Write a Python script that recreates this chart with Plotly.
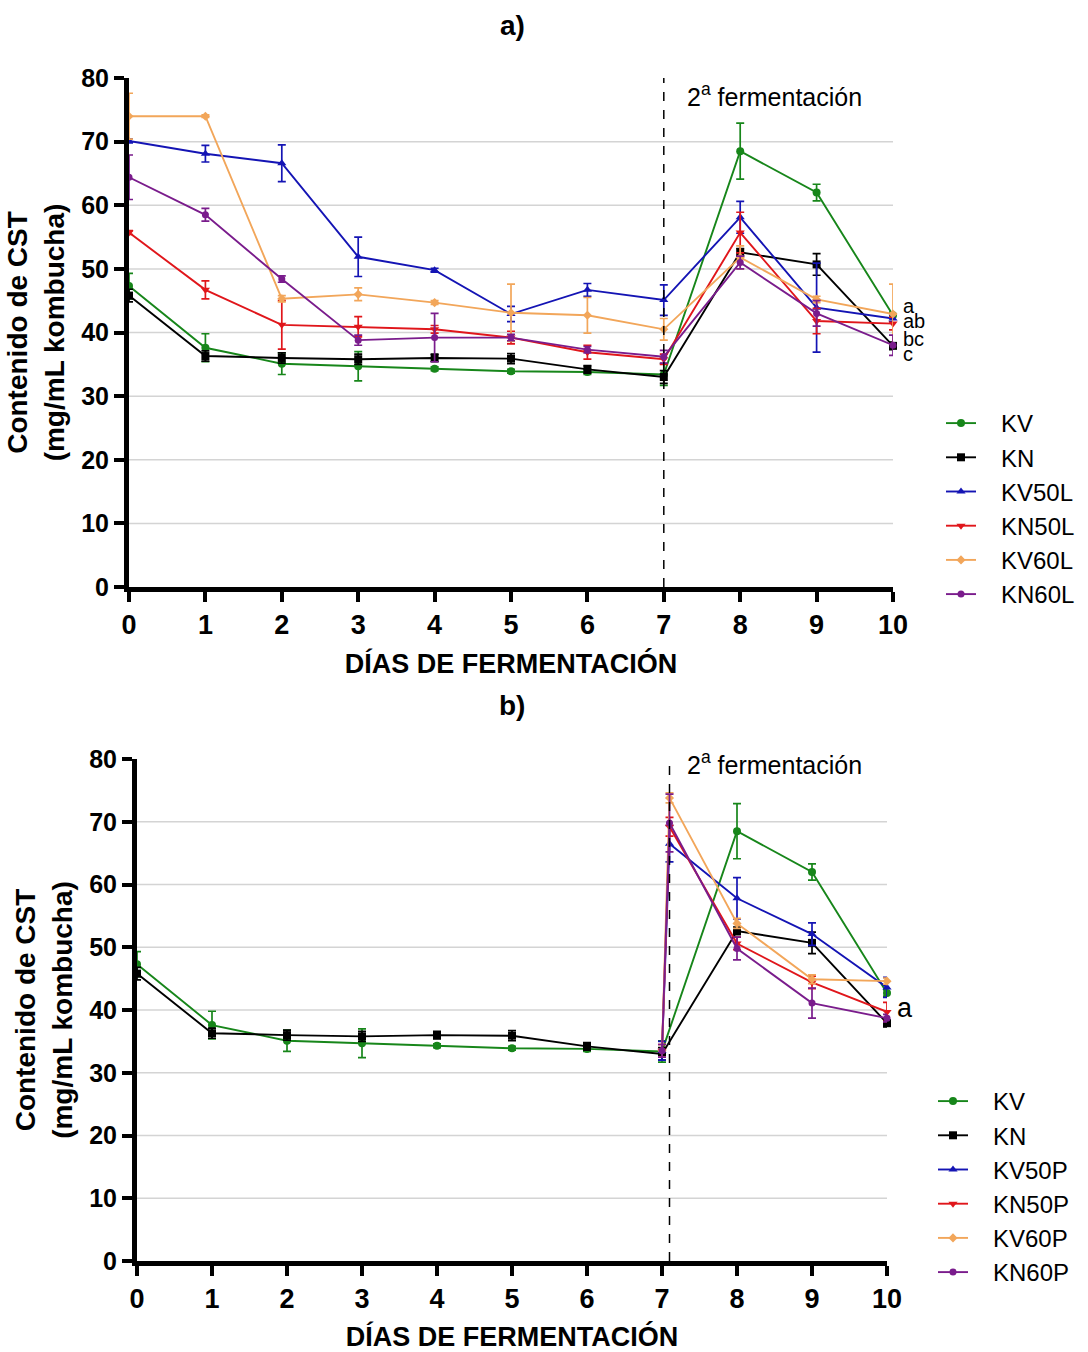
import plotly.graph_objects as go

# ---- data -------------------------------------------------------------
DAYS = [0, 1, 2, 3, 4, 5, 6, 7, 8, 9, 10]
P_DAYS = [7, 7.1, 8, 9, 10]
Y_TICKS = [0, 10, 20, 30, 40, 50, 60, 70, 80]
GRID = [10, 20, 30, 40, 50, 60, 70]

KV = [47.3, 37.6, 35.1, 34.7, 34.3, 33.9, 33.8, 33.4, 68.5, 62.0, 42.7]
KV_ERR = [2.0, 2.2, 1.7, 2.3, 0.3, 0.3, 0.4, 1.7, 4.4, 1.3, 0.5]
KN = [45.8, 36.3, 36.0, 35.8, 36.0, 35.9, 34.2, 33.0, 52.6, 50.7, 37.9]
KN_ERR = [1.0, 0.8, 0.8, 0.8, 0.6, 0.8, 0.6, 1.0, 0.6, 1.7, 0.6]

KV50L = [70.1, 68.1, 66.6, 51.9, 49.8, 42.9, 46.7, 45.1, 58.1, 43.9, 42.2]
KV50L_ERR = [0.3, 1.3, 2.9, 3.1, 0.3, 1.2, 1.0, 2.4, 2.5, 7.0, 0.5]
KN50L = [55.7, 46.7, 41.2, 40.9, 40.5, 39.2, 36.9, 35.8, 55.7, 41.8, 41.4]
KN50L_ERR = [0.3, 1.4, 3.8, 1.6, 0.6, 1.0, 1.1, 0.8, 3.2, 2.0, 1.0]
KV60L = [74.0, 74.0, 45.3, 46.0, 44.7, 43.1, 42.7, 40.5, 51.8, 45.2, 42.9]
KV60L_ERR = [3.6, 0.2, 0.5, 1.0, 0.3, 4.5, 2.8, 1.7, 1.8, 0.5, 4.7]
KN60L = [64.4, 58.5, 48.4, 38.8, 39.2, 39.2, 37.3, 36.2, 51.0, 43.0, 38.0]
KN60L_ERR = [3.5, 1.0, 0.5, 0.8, 3.8, 0.5, 0.5, 1.0, 1.0, 2.0, 1.6]

KV50P = [33.5, 66.5, 57.8, 52.1, 43.6]
KV50P_ERR = [1.5, 2.9, 3.3, 1.8, 1.6]
KN50P = [33.5, 69.2, 50.6, 44.4, 39.7]
KN50P_ERR = [1.0, 1.5, 1.0, 1.0, 1.5]
KV60P = [33.5, 73.8, 53.8, 44.9, 44.6]
KV60P_ERR = [1.0, 0.8, 0.8, 0.7, 0.5]
KN60P = [33.5, 69.8, 49.8, 41.1, 38.7]
KN60P_ERR = [1.0, 4.6, 1.8, 2.4, 0.6]

LETTERS_A = ["a", "ab", "bc", "c"]
LETTERS_A_Y = [44.2, 41.8, 39.0, 36.6]
LETTERS_B = ["a"]
LETTERS_B_Y = [40.3]

# ---- styles -----------------------------------------------------------
GREEN, BLACK, BLUE = "#17861a", "#000000", "#1414b4"
RED, ORANGE, PURPLE = "#e0161b", "#f2a65a", "#7a1c8c"

STYLE = {
    "KV": (GREEN, "circle", 8),
    "KN": (BLACK, "square", 8),
    "50": (BLUE, "triangle-up", 8),
    "N50": (RED, "triangle-down", 8),
    "60": (ORANGE, "diamond", 7),
    "N60": (PURPLE, "circle", 7),
}

SANS = "Liberation Sans, Arial"
AX_FONT = dict(family=SANS, size=25, color="black", weight="bold")
NARROW_BOLD = dict(family="Liberation Sans Narrow, Arial Narrow, Liberation Sans",
                   size=27, color="black", weight="bold")
GAP = "\u00a0\u00a0\u00a0"  # breathing room between legend symbol and label

fig = go.Figure()


def add_series(name, x, y, err, key, xa, ya, legend):
    color, symbol, size = STYLE[key]
    fig.add_trace(go.Scatter(
        x=x, y=y, name=GAP + name, mode="lines+markers",
        xaxis=xa, yaxis=ya, legend=legend, cliponaxis=False,
        line=dict(color=color, width=1.9),
        marker=dict(color=color, symbol=symbol, size=size),
        error_y=dict(type="data", array=err, visible=True, color=color,
                     thickness=1.7, width=4),
    ))


# panel a
add_series("KV", DAYS, KV, KV_ERR, "KV", "x", "y", "legend")
add_series("KN", DAYS, KN, KN_ERR, "KN", "x", "y", "legend")
add_series("KV50L", DAYS, KV50L, KV50L_ERR, "50", "x", "y", "legend")
add_series("KN50L", DAYS, KN50L, KN50L_ERR, "N50", "x", "y", "legend")
add_series("KV60L", DAYS, KV60L, KV60L_ERR, "60", "x", "y", "legend")
add_series("KN60L", DAYS, KN60L, KN60L_ERR, "N60", "x", "y", "legend")

# panel b
add_series("KV", DAYS, KV, KV_ERR, "KV", "x2", "y2", "legend2")
add_series("KN", DAYS, KN, KN_ERR, "KN", "x2", "y2", "legend2")
add_series("KV50P", P_DAYS, KV50P, KV50P_ERR, "50", "x2", "y2", "legend2")
add_series("KN50P", P_DAYS, KN50P, KN50P_ERR, "N50", "x2", "y2", "legend2")
add_series("KV60P", P_DAYS, KV60P, KV60P_ERR, "60", "x2", "y2", "legend2")
add_series("KN60P", P_DAYS, KN60P, KN60P_ERR, "N60", "x2", "y2", "legend2")

W, H = 1088, 1352


def xaxis(x0px, x1px, anchor):
    return dict(domain=[x0px / W, x1px / W], range=[0, 10], anchor=anchor,
                automargin=False,
                tickvals=DAYS, ticks="outside", ticklen=10, tickwidth=4,
                tickcolor="black", showline=True, linewidth=5, linecolor="black",
                showgrid=False, zeroline=False, tickfont=NARROW_BOLD,
                title=dict(text="DÍAS DE FERMENTACIÓN", font=NARROW_BOLD, standoff=16))


def yaxis(y0px, y1px, anchor):
    return dict(domain=[1 - y0px / H, 1 - y1px / H], range=[0, 80], anchor=anchor,
                automargin=False,
                tickvals=Y_TICKS, ticks="outside", ticklen=10, tickwidth=4,
                tickcolor="black", showline=True, linewidth=5, linecolor="black",
                showgrid=False, zeroline=False, tickfont=AX_FONT,
                title=dict(text="Contenido de CST<br>(mg/mL kombucha)",
                           font=dict(family=SANS, size=28, color="black", weight="bold"),
                           standoff=10))


def legend_box(xpx, ypx, size):
    return dict(x=xpx / W, y=1 - ypx / H, xanchor="left", yanchor="top",
                font=dict(family=SANS, size=size, color="black"),
                bgcolor="rgba(0,0,0,0)", tracegroupgap=0, itemwidth=30)


fig.update_layout(
    template="none",
    width=W, height=H, margin=dict(l=0, r=0, t=0, b=0, autoexpand=False),
    paper_bgcolor="white", plot_bgcolor="white",
    xaxis=xaxis(129, 893, "y"), yaxis=yaxis(587, 78, "x"),
    xaxis2=xaxis(137, 887, "y2"), yaxis2=yaxis(1261, 759, "x2"),
    legend=legend_box(941, 401, 24),
    legend2=legend_box(933, 1079, 24),
    showlegend=True,
)

# light horizontal grid
for xr, yr in (("x", "y"), ("x2", "y2")):
    for g in GRID:
        fig.add_shape(type="line", xref=f"{xr} domain", yref=yr, x0=0, x1=1,
                      y0=g, y1=g, line=dict(color="#d4d4d4", width=1.5), layer="below")

# start of the second fermentation
fig.add_shape(type="line", xref="x", yref="y domain", x0=7, x1=7, y0=0, y1=1,
              line=dict(color="black", width=1.5, dash="dash"))
fig.add_shape(type="line", xref="x2", yref="y2 domain", x0=7.1, x1=7.1, y0=0, y1=1,
              line=dict(color="black", width=1.5, dash="dash"))

ANN_FONT = dict(family=SANS, size=25, color="black")
fig.add_annotation(x=7.28, y=77.4, xref="x", yref="y", text="2<sup>a</sup> fermentación",
                   showarrow=False, xanchor="left", yanchor="middle", font=ANN_FONT)
fig.add_annotation(x=7.3, y=79.4, xref="x2", yref="y2", text="2<sup>a</sup> fermentación",
                   showarrow=False, xanchor="left", yanchor="middle", font=ANN_FONT)

# significance letters just right of day 10
LET_FONT = dict(family=SANS, size=20, color="black")
for t, yv in zip(LETTERS_A, LETTERS_A_Y):
    fig.add_annotation(x=1, y=yv, xref="x domain", yref="y", text=t, showarrow=False,
                       xanchor="left", yanchor="middle", xshift=8, font=LET_FONT)
for t, yv in zip(LETTERS_B, LETTERS_B_Y):
    fig.add_annotation(x=1, y=yv, xref="x2 domain", yref="y2", text=t, showarrow=False,
                       xanchor="left", yanchor="middle", xshift=8,
                       font=dict(LET_FONT, size=27))

PANEL_FONT = dict(family=SANS, size=28, color="black", weight="bold")
fig.add_annotation(x=512 / W, y=1 - 25 / H, xref="paper", yref="paper", text="a)",
                   showarrow=False, yanchor="middle", font=PANEL_FONT)
fig.add_annotation(x=512 / W, y=1 - 705 / H, xref="paper", yref="paper", text="b)",
                   showarrow=False, yanchor="middle", font=PANEL_FONT)

fig.write_html("out.html")
